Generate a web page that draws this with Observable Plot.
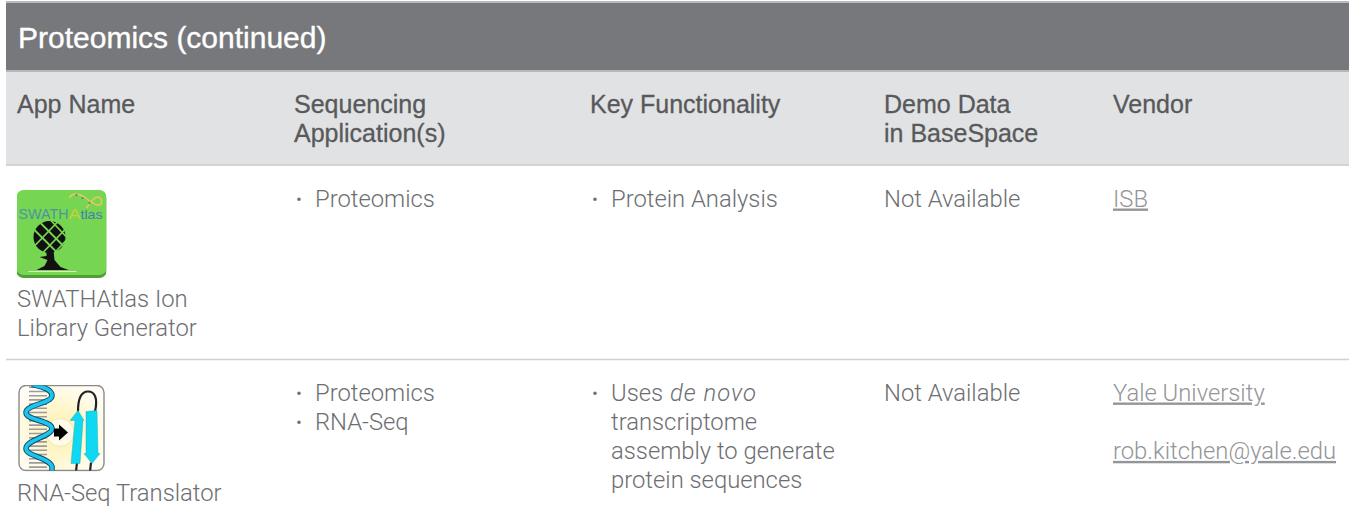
<!DOCTYPE html>
<html><head><meta charset="utf-8">
<script src="https://cdn.jsdelivr.net/npm/d3@7"></script>
<script src="https://cdn.jsdelivr.net/npm/@observablehq/plot@0.6"></script>
<style>
html,body{margin:0;padding:0;background:#fff}
svg{display:block}
.link text{text-decoration:underline}
.emph text{letter-spacing:1px}
</style></head><body>
<script>
const WIDTH = 1349, HEIGHT = 521;
const sectionTitle = ["Proteomics (continued)"];
const headerLines = [
  {text:"App Name", col:0, line:0},
  {text:"Sequencing", col:1, line:0},
  {text:"Application(s)", col:1, line:1},
  {text:"Key Functionality", col:2, line:0},
  {text:"Demo Data", col:3, line:0},
  {text:"in BaseSpace", col:3, line:1},
  {text:"Vendor", col:4, line:0}
];
const columnX = [16.5, 293.5, 589.5, 883.5, 1112.5];
const bulletIndent = 21;
const lineStep = 29.2;
const headerBase = 112.5, row1Base = 206, row2Base = 400;
const plainCells = [
  {text:"Not Available", x:columnX[3], y:row1Base},
  {text:"Not Available", x:columnX[3], y:row2Base},
  {text:"SWATHAtlas Ion", x:columnX[0], y:306},
  {text:"Library Generator", x:columnX[0], y:335},
  {text:"RNA-Seq Translator", x:columnX[0], y:500}
];
const bulletCells = [
  {text:"Proteomics", col:1, y:row1Base},
  {text:"Protein Analysis", col:2, y:row1Base},
  {text:"Proteomics", col:1, y:row2Base},
  {text:"RNA-Seq", col:1, y:row2Base + lineStep},
  {text:"Uses", col:2, y:row2Base}
];
const continuation = [
  {text:"transcriptome", line:1},
  {text:"assembly to generate", line:2},
  {text:"protein sequences", line:3}
];
const italicCell = [{text:"de novo", x:columnX[2]+80, y:row2Base}];
const links = [
  {text:"ISB", y:row1Base},
  {text:"Yale University", y:row2Base},
  {text:"rob.kitchen@yale.edu", y:row2Base + 2*lineStep}
];
const bands = [
  {y1:1, y2:3, fill:"#b9babc"},
  {y1:3, y2:70, fill:"#77787b"},
  {y1:70, y2:164, fill:"#e1e2e4"}
];
const separators = [{y:70.5, c:"#a7a8aa"},{y:164.5, c:"#c4c5c7"},{y:359, c:"#cfd0d2"}];

const swathIcon = `<svg xmlns='http://www.w3.org/2000/svg' width='90' height='88' viewBox='0 0 90 88'>
<rect x='0' y='2' width='90' height='86' rx='7' fill='#4f9e3a'/>
<rect x='0' y='0' width='90' height='85' rx='7' fill='#76d651'/>
<g fill='none' stroke='#e6c65c' stroke-width='1.6'>
<path d='M53 8C55 3 62 3 68 7C73 11 78 16 83 15C87 14 85 7 81 7C76 8 73 14 70 18'/>
</g>
<g fill='#3d7ea8'><circle cx='60' cy='5' r='1'/><circle cx='66' cy='8' r='1'/><circle cx='73' cy='13' r='1'/></g>
<text x='2' y='29' font-family='Liberation Sans' font-size='14' fill='#4d94a0' textLength='50' lengthAdjust='spacingAndGlyphs'>SWATH</text>
<text x='52' y='29' font-family='Liberation Sans' font-size='14' fill='#c7cf3a' textLength='12' lengthAdjust='spacingAndGlyphs'>A</text>
<text x='64' y='29' font-family='Liberation Sans' font-size='13' fill='#3f7fb0' textLength='22' lengthAdjust='spacingAndGlyphs'>tlas</text>
<circle cx='33' cy='47' r='16' fill='#111'/>
<g stroke='#76d651' stroke-width='1.8'><path d='M18 40L44 66M24 33L50 59M34 30L50 47M42 31L18 56M50 38L26 63M50 50L36 65'/></g>
<path d='M30 60h7l1 10 6 7 8 3H20l8-4 3-6-8-3 7-1z' fill='#111'/>
<rect x='12' y='81' width='48' height='1' fill='#dfe9c8'/>
</svg>`;
const rnaIcon = `<svg xmlns='http://www.w3.org/2000/svg' width='87' height='87' viewBox='0 0 87 87'>
<defs><radialGradient id='g' cx='.48' cy='.55' r='.6'><stop offset='0' stop-color='#fff0a8'/><stop offset='1' stop-color='#fffdf5'/></radialGradient>
<clipPath id='c'><rect x='1' y='1' width='85' height='85' rx='7'/></clipPath></defs>
<rect x='1' y='1' width='85' height='85' rx='7' fill='url(#g)' stroke='#8a8a86' stroke-width='1.4'/>
<g clip-path='url(#c)'>
<circle cx='42' cy='48' r='14' fill='#fffbe8' stroke='#f2e6b0'/>
<path d='M20 2V87' fill='none' stroke='#9a9aa4' stroke-width='18' stroke-dasharray='1.6 2.6'/>
<path d='M14 0C22 2 34 4 34 11C34 19 8 20 8 28C8 36 34 36 34 44C34 52 8 55 8 64C8 72 30 72 34 82L34 88' fill='none' stroke='#0e4a6a' stroke-width='5.5'/>
<path d='M14 0C22 2 34 4 34 11C34 19 8 20 8 28C8 36 34 36 34 44C34 52 8 55 8 64C8 72 30 72 34 82L34 88' fill='none' stroke='#1cc4ee' stroke-width='3.6'/>
<path d='M36 44h5v-4l9 8-9 8v-4h-5z' fill='#000'/>
<path d='M59 78l-1 9M73 78l-1 9' stroke='#222' stroke-width='2.2'/>
<path d='M60 27C60 14 63 7 70 7C77 7 80 14 77 27' fill='none' stroke='#222' stroke-width='2.2'/>
<path d='M53 79L57 36H52L60 26L66 36H65L62 79z' fill='#10d8f2' stroke='#0aa' stroke-width='.4'/>
<path d='M68 27L79 26L80 69H82L74 79L66 69H68z' fill='#10d8f2' stroke='#0aa' stroke-width='.4'/>
</g></svg>`;
const iconUri = s => "data:image/svg+xml;utf8," + encodeURIComponent(s);
const icons = [
  {src:iconUri(swathIcon), x:61, y:233.5, w:90, h:88},
  {src:iconUri(rnaIcon), x:61, y:427.5, w:87, h:87}
];

const bodyColor = "#6d6e71", headColor = "#58595b", linkColor = "#939598";
const bodyFont = "Roboto, 'Liberation Sans', sans-serif";
const headFont = "'Liberation Sans', sans-serif";
const textOpts = {textAnchor:"start", lineAnchor:"bottom", fontSize:23.8, fontFamily:bodyFont, fontWeight:300, fill:bodyColor};

const chart = Plot.plot({
  width:WIDTH, height:HEIGHT, margin:0,
  x:{type:"identity"}, y:{type:"identity"},
  axis:null,
  marks:[
    Plot.rect(bands,{x1:()=>6, x2:()=>WIDTH, y1:"y1", y2:"y2", fill:d=>d.fill}),
    Plot.ruleY(separators,{y:"y", x1:()=>6, x2:()=>WIDTH, stroke:"c", strokeWidth:1.5}),
    Plot.text(sectionTitle,{x:()=>17.5, y:()=>47, text:d=>d, textAnchor:"start", lineAnchor:"bottom", fontSize:30, fontFamily:headFont, fill:"#fff", stroke:"#fff", strokeWidth:0.35}),
    Plot.text(headerLines,{x:d=>columnX[d.col], y:d=>headerBase+d.line*lineStep, text:"text", textAnchor:"start", lineAnchor:"bottom", fontSize:25, fontFamily:headFont, fill:headColor, stroke:headColor, strokeWidth:0.3}),
    Plot.text(plainCells,{x:"x", y:"y", text:"text", ...textOpts}),
    Plot.text(bulletCells,{x:d=>columnX[d.col]+2, y:d=>d.y-1, text:()=>"•", ...textOpts, fontSize:18}),
    Plot.text(bulletCells,{x:d=>columnX[d.col]+bulletIndent, y:"y", text:"text", ...textOpts}),
    Plot.text(continuation,{x:()=>columnX[2]+bulletIndent, y:d=>row2Base+d.line*lineStep, text:"text", ...textOpts}),
    Plot.text(italicCell,{x:"x", y:"y", text:"text", ...textOpts, fontStyle:"italic", className:"emph"}),
    Plot.text(links,{x:()=>columnX[4], y:"y", text:"text", ...textOpts, fill:linkColor, className:"link"}),
    Plot.image(icons,{x:"x", y:"y", width:"w", height:"h", src:"src"})
  ]
});
document.body.appendChild(chart);
</script></body></html>
